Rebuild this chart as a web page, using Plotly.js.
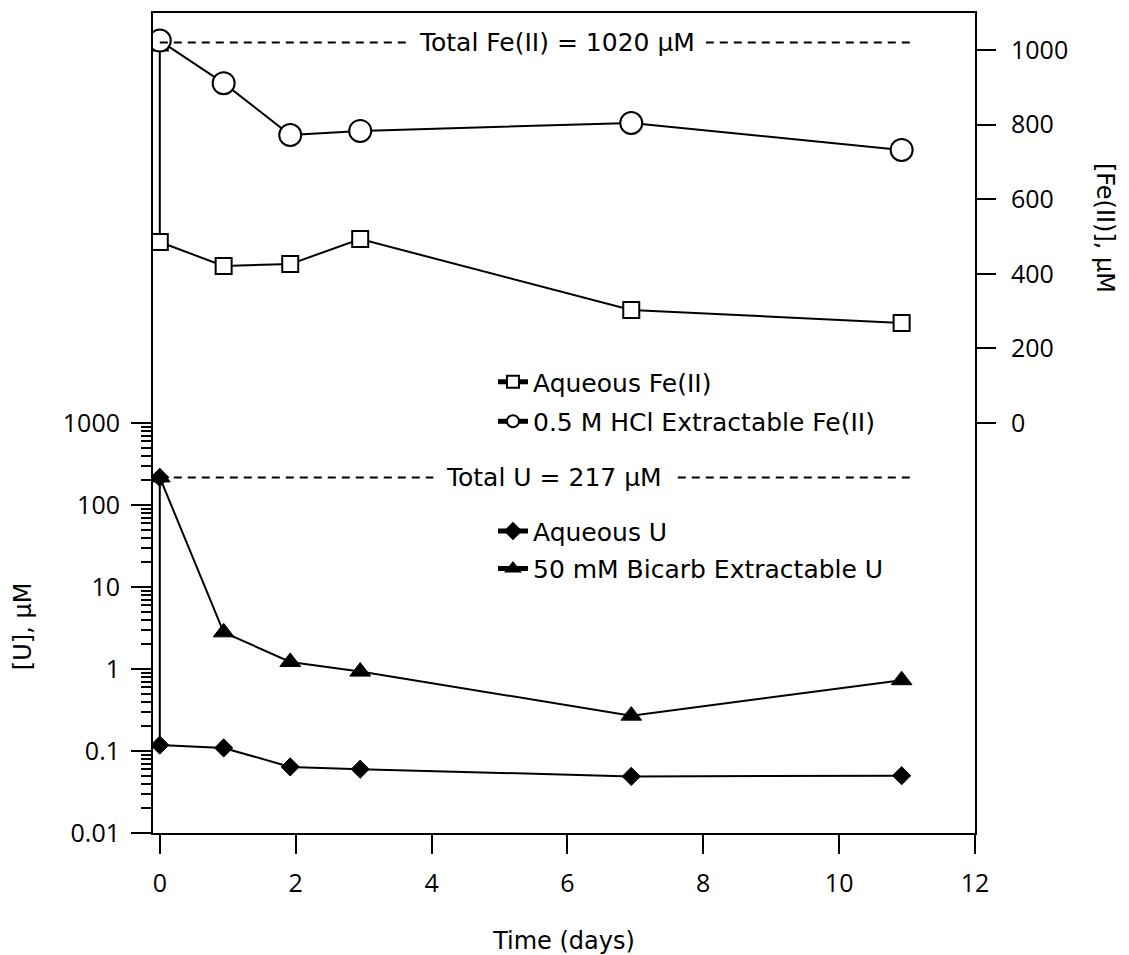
<!DOCTYPE html>
<html><head><meta charset="utf-8">
<script src="https://cdn.plot.ly/plotly-3.0.1.min.js"></script>
<style>html,body{margin:0;padding:0;background:#fff}</style>
</head><body><div id="chart" style="width:1129px;height:955px"></div>
<script>
// ---- data ----
const timeFeAq   = [0, 0, 0.94, 1.92, 2.95, 6.94, 10.92];
const feAqueous  = [1020, 485, 421, 426, 493, 303, 268];
const timeFeHCl  = [0, 0.94, 1.92, 2.95, 6.94, 10.92];
const feHCl      = [1025, 911, 772, 783, 804, 732];
const timeUAq    = [0, 0, 0.94, 1.92, 2.95, 6.94, 10.92];
const uAqueous   = [217, 0.118, 0.109, 0.064, 0.060, 0.049, 0.050];
const timeUBic   = [0, 0.94, 1.92, 2.95, 6.94, 10.92];
const uBicarb    = [217, 2.8, 1.22, 0.93, 0.27, 0.73];
const totalFe = 1020;
const totalU = 217;
const refLineDays = [0, 11.1];
const xTicks = [0, 2, 4, 6, 8, 10, 12];
const uTicks = [0.01, 0.1, 1, 10, 100, 1000];
const uTickText = ['0.01', '0.1', '1', '10', '100', '1000'];
const feTicks = [0, 200, 400, 600, 800, 1000];
const traceNames = ['Aqueous Fe(II)', '0.5 M HCl Extractable Fe(II)', 'Aqueous U', '50 mM Bicarb Extractable U'];

const minorU = [];
[0.01, 0.1, 1, 10, 100].forEach(d => { for (let m = 2; m <= 9; m++) minorU.push(+(d * m).toPrecision(3)); });

const TICKFONT = 'Open Sans, sans-serif';
const TEXTFONT = 'DejaVu Sans, sans-serif';
const K = '#000';

const traces = [
  {x: timeFeAq, y: feAqueous, yaxis: 'y2', name: traceNames[0], legend: 'legend', legendgroup: 'a',
   mode: 'lines+markers', line: {color: K, width: 2},
   marker: {symbol: 'square', size: 16, color: '#fff', line: {color: K, width: 2}}},
  {x: timeFeHCl, y: feHCl, yaxis: 'y2', name: traceNames[1], legend: 'legend', legendgroup: 'b',
   mode: 'lines+markers', line: {color: K, width: 2},
   marker: {symbol: 'circle', size: 22, color: '#fff', line: {color: K, width: 2}}},
  {x: timeUAq, y: uAqueous, yaxis: 'y', name: traceNames[2], legend: 'legend2', legendgroup: 'c',
   mode: 'lines+markers', line: {color: K, width: 2},
   marker: {symbol: 'diamond', size: 14, color: K, line: {color: K, width: 1}}},
  {x: timeUBic, y: uBicarb, yaxis: 'y', name: traceNames[3], legend: 'legend2', legendgroup: 'd',
   mode: 'lines+markers', line: {color: K, width: 2},
   marker: {symbol: 'triangle-up', size: 18, color: K, line: {color: K, width: 1}}}
];

const layout = {
  width: 1129, height: 955,
  margin: {l: 153, r: 154, t: 13, b: 122, pad: 0},
  paper_bgcolor: '#fff', plot_bgcolor: '#fff',
  font: {family: TEXTFONT, size: 25, color: K},
  showlegend: true,
  xaxis: {range: [-0.1, 12], tickmode: 'array', tickvals: xTicks, ticks: 'outside', ticklen: 19, tickwidth: 2, tickcolor: K,
          showline: true, linewidth: 2, linecolor: K, mirror: true, showgrid: false, zeroline: false,
          ticklabelstandoff: 8,
          tickfont: {family: TICKFONT, size: 25}, title: {text: 'Time (days)', font: {family: TEXTFONT, size: 24}, standoff: 38}},
  yaxis: {type: 'log', range: [-2, 8], tickmode: 'array', tickvals: uTicks, ticktext: uTickText,
          ticks: 'outside', ticklen: 20, tickwidth: 2, tickcolor: K,
          showline: true, linewidth: 2, linecolor: K, mirror: true, showgrid: false, zeroline: false,
          ticklabelstandoff: 6,
          tickfont: {family: TICKFONT, size: 25},
          minor: {tickmode: 'array', tickvals: minorU, ticks: 'outside', ticklen: 10, tickwidth: 2, tickcolor: K, showgrid: false}},
  yaxis2: {overlaying: 'y', side: 'right', range: [-1099, 1099], tickmode: 'array', tickvals: feTicks,
           ticks: 'outside', ticklen: 20, tickwidth: 2, tickcolor: K, showline: false, showgrid: false, zeroline: false,
           ticklabelstandoff: 10,
           tickfont: {family: TICKFONT, size: 25}},
  legend: {x: 0.4136, xanchor: 'left', y: 0.578, yanchor: 'top', bgcolor: 'rgba(0,0,0,0)', borderwidth: 0,
           font: {family: TEXTFONT, size: 25}, itemsizing: 'constant', tracegroupgap: 4},
  legend2: {x: 0.4136, xanchor: 'left', y: 0.396, yanchor: 'top', bgcolor: 'rgba(0,0,0,0)', borderwidth: 0,
            font: {family: TEXTFONT, size: 25}, itemsizing: 'constant', tracegroupgap: 2},
  shapes: [
    {type: 'line', xref: 'x', yref: 'y2', x0: refLineDays[0], x1: refLineDays[1], y0: totalFe, y1: totalFe,
     line: {color: K, width: 2, dash: '8px,6px'}},
    {type: 'line', xref: 'x', yref: 'y', x0: refLineDays[0], x1: refLineDays[1], y0: totalU, y1: totalU,
     line: {color: K, width: 2, dash: '8px,6px'}}
  ],
  annotations: [
    {xref: 'x', yref: 'y2', x: 5.84, y: totalFe, text: 'Total Fe(II) = ' + totalFe + ' μM', showarrow: false,
     bgcolor: '#fff', borderpad: 10, font: {size: 25}},
    {xref: 'x', yref: 'y', x: 5.81, y: Math.log10(totalU), text: 'Total U = ' + totalU + ' μM', showarrow: false,
     bgcolor: '#fff', borderpad: 12, font: {size: 25}},
    {xref: 'paper', yref: 'paper', x: -0.158, y: 0.2524, xanchor: 'center', yanchor: 'middle',
     text: '[U], μM', textangle: -90, showarrow: false, font: {size: 24}},
    {xref: 'paper', yref: 'paper', x: 1.158, y: 0.738, xanchor: 'center', yanchor: 'middle',
     text: '[Fe(II)], μM', textangle: 90, showarrow: false, font: {size: 24}}
  ]
};

Plotly.newPlot('chart', traces, layout, {displayModeBar: false, staticPlot: true});
</script>
</body></html>
